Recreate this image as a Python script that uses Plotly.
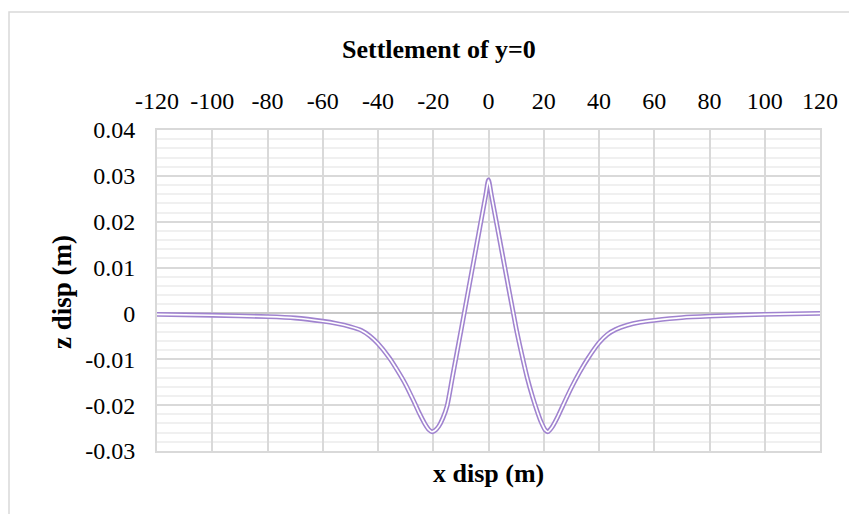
import plotly.graph_objects as go

x_disp = [-120, -100, -80, -70, -60, -55, -50, -46, -43, -40, -36, -33, -30, -27, -25, -23,
          -21.5, -20.5, -19.5, -18, -16.5, -15, -13, -10, -5, -1, 0, 1, 5, 10, 12, 14, 16,
          17.5, 19, 20.5, 21.5, 23, 25, 27, 30, 33, 36, 40, 43, 46, 50, 55, 60, 70, 80, 100, 120]
z_disp = [-0.0002, -0.0004, -0.0007, -0.0010, -0.0017, -0.0022, -0.0029, -0.0037, -0.0049,
          -0.0066, -0.0096, -0.0124, -0.0155, -0.0192, -0.0218, -0.0241,
          -0.0254, -0.0258, -0.0256, -0.0246, -0.0228, -0.0202, -0.0137, -0.0039, 0.0126,
          0.0258, 0.0291, 0.0259, 0.0130, -0.0032, -0.0088, -0.0140, -0.0183,
          -0.0211, -0.0236, -0.0254, -0.0258, -0.0248, -0.0226, -0.0200, -0.0162, -0.0128,
          -0.0098, -0.0064, -0.0046, -0.0035, -0.0026, -0.0019, -0.0015, -0.0009, -0.0006,
          -0.0002, 0.0]

x_tickvals = [-120, -100, -80, -60, -40, -20, 0, 20, 40, 60, 80, 100, 120]
x_ticktext = ["-120", "-100", "-80", "-60", "-40", "-20", "0", "20", "40", "60", "80", "100", "120"]
y_tickvals = [0.04, 0.03, 0.02, 0.01, 0, -0.01, -0.02, -0.03]
y_ticktext = ["0.04", "0.03", "0.02", "0.01", "0", "-0.01", "-0.02", "-0.03"]

title_text = "Settlement of y=0"
x_title = "x disp (m)"
y_title = "z disp (m)"

# page body has an 8px margin; work in reference pixel coordinates and shift
O = 8
W, H = 857 - O, 514 - O
L, T = 157 - O, 130 - O
R = W - (820 - O)
B = H - (451 - O)
pw, ph = W - L - R, H - T - B

def px_x(px):
    return (px - O - L) / pw

def px_y(py):
    return (H - B - (py - O)) / ph

FONT = "Liberation Serif, Times New Roman, serif"
PURPLE = "#a083cf"
GRID = "#d9d9d9"

fig = go.Figure()
fig.add_trace(go.Scatter(x=x_disp, y=z_disp, mode="lines",
                         line=dict(color=PURPLE, width=4.8, shape="spline", smoothing=0.7),
                         hoverinfo="skip", showlegend=False))
fig.add_trace(go.Scatter(x=x_disp, y=z_disp, mode="lines",
                         line=dict(color="white", width=1.7, shape="spline", smoothing=0.7),
                         hoverinfo="skip", showlegend=False))

fig.update_layout(
    width=W, height=H,
    margin=dict(l=L, r=R, t=T, b=B, pad=0),
    paper_bgcolor="white", plot_bgcolor="white",
    font=dict(family=FONT, color="black", size=24),
    showlegend=False,
    xaxis=dict(range=[-120, 120], side="top", tickmode="array",
               tickvals=x_tickvals, ticktext=x_ticktext,
               showgrid=True, gridcolor=GRID, gridwidth=2,
               showline=True, mirror=True, linecolor=GRID, linewidth=2,
               zeroline=False, ticks="outside", ticklen=9, tickcolor="rgba(0,0,0,0)",
               tickfont=dict(size=24, family=FONT, color="black"), fixedrange=True),
    yaxis=dict(range=[-0.03, 0.04], tickmode="array",
               tickvals=y_tickvals, ticktext=y_ticktext,
               showgrid=True, gridcolor=GRID, gridwidth=2,
               minor=dict(dtick=0.002, tick0=0, showgrid=True, gridcolor="#f0f0f0", gridwidth=1.5),
               showline=True, mirror=True, linecolor=GRID, linewidth=2,
               zeroline=True, zerolinecolor="#c8c8c8", zerolinewidth=2,
               ticks="outside", ticklen=15, tickcolor="rgba(0,0,0,0)",
               tickfont=dict(size=24, family=FONT, color="black"), fixedrange=True),
    shapes=[dict(type="rect", xref="paper", yref="paper",
                 x0=px_x(9), x1=px_x(1000), y0=px_y(700), y1=px_y(12),
                 line=dict(color="#d9d9d9", width=1.5), fillcolor="rgba(0,0,0,0)", layer="below")],
    annotations=[
        dict(text="<b>%s</b>" % title_text, xref="paper", yref="paper",
             x=px_x(439), y=px_y(50), showarrow=False, xanchor="center", yanchor="middle",
             font=dict(size=26, family=FONT, color="black")),
        dict(text="<b>%s</b>" % x_title, xref="paper", yref="paper",
             x=px_x(488.5), y=px_y(473), showarrow=False, xanchor="center", yanchor="middle",
             font=dict(size=26, family=FONT, color="black")),
        dict(text="<b>%s</b>" % y_title, xref="paper", yref="paper",
             x=px_x(62), y=px_y(292), showarrow=False, xanchor="center", yanchor="middle",
             textangle=-90, font=dict(size=27, family=FONT, color="black")),
    ],
)

fig.write_html("out.html")
